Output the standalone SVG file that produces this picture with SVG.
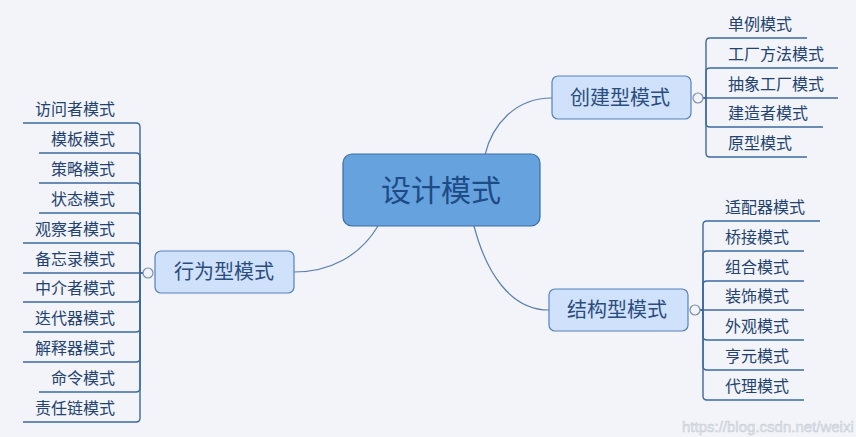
<svg xmlns="http://www.w3.org/2000/svg" width="856" height="437" viewBox="0 0 856 437">
<style>
.bg{fill:#f2f4f9}
.root{fill:#66a2de;stroke:#3c6ca6;stroke-width:1.2}
.sub{fill:#d0e1fc;stroke:#5582ba;stroke-width:1.2}
.rt{font-family:"Liberation Sans","Noto Sans CJK SC",sans-serif;font-size:30px;fill:#1d4b85;text-anchor:middle}
.st{font-family:"Liberation Sans","Noto Sans CJK SC",sans-serif;font-size:20px;fill:#2b4d7d;text-anchor:middle}
.it{font-family:"Liberation Sans","Noto Sans CJK SC",sans-serif;font-size:16px;fill:#23426f}
.itr{font-family:"Liberation Sans","Noto Sans CJK SC",sans-serif;font-size:16px;fill:#23426f;text-anchor:end}
.ln{fill:none;stroke:#3d6aa0;stroke-width:1.4}
.cl{fill:none;stroke:#5a7fae;stroke-width:1.2}
.kn{fill:#f2f4f9;stroke:#7a8fa8;stroke-width:1.2}
.wm{font-family:"Liberation Sans","DejaVu Sans",sans-serif;font-size:15px;fill:#dfe2e8;stroke:#c4c8d0;stroke-width:0.4}
</style>
<rect class="bg" x="0" y="0" width="856" height="437"/>

<g id="connectors">
  <path class="cl" d="M485 155 C492 125 515 98 552 98"/>
  <path class="cl" d="M474 226 C486 272 510 310 549 310"/>
  <path class="cl" d="M378 226 C360 256 330 272 294 272"/>
  <!-- creational branches -->
  <path class="ln" d="M703 98 H706 V42 Q706 38 710 38 H807"/>
  <path class="ln" d="M703 98 H706 V72 Q706 68 710 68 H838"/>
  <path class="ln" d="M703 98 H838"/>
  <path class="ln" d="M703 98 H706 V123 Q706 127 710 127 H823"/>
  <path class="ln" d="M703 98 H706 V153 Q706 157 710 157 H807"/>
  <!-- structural branches -->
  <path class="ln" d="M700 310 H703 V225 Q703 221 707 221 H820"/>
  <path class="ln" d="M700 310 H703 V255 Q703 251 707 251 H804"/>
  <path class="ln" d="M700 310 H703 V285 Q703 281 707 281 H804"/>
  <path class="ln" d="M700 310 H804"/>
  <path class="ln" d="M700 310 H703 V336 Q703 340 707 340 H804"/>
  <path class="ln" d="M700 310 H703 V366 Q703 370 707 370 H804"/>
  <path class="ln" d="M700 310 H703 V396 Q703 400 707 400 H804"/>
  <!-- behavioral branches -->
  <path class="ln" d="M143 273 H140 V127 Q140 123 136 123 H23"/>
  <path class="ln" d="M143 273 H140 V157 Q140 153 136 153 H39"/>
  <path class="ln" d="M143 273 H140 V187 Q140 183 136 183 H39"/>
  <path class="ln" d="M143 273 H140 V217 Q140 213 136 213 H39"/>
  <path class="ln" d="M143 273 H140 V247 Q140 243 136 243 H23"/>
  <path class="ln" d="M143 273 H23"/>
  <path class="ln" d="M143 273 H140 V298 Q140 302 136 302 H23"/>
  <path class="ln" d="M143 273 H140 V328 Q140 332 136 332 H23"/>
  <path class="ln" d="M143 273 H140 V358 Q140 362 136 362 H23"/>
  <path class="ln" d="M143 273 H140 V388 Q140 392 136 392 H39"/>
  <path class="ln" d="M143 273 H140 V418 Q140 422 136 422 H23"/>
</g>

<g id="root">
  <rect class="root" x="343" y="154" width="197" height="72" rx="9"/>
  <text class="rt" x="441" y="201">设计模式</text>
</g>

<g id="creational">
  <rect class="sub" x="552" y="76" width="139" height="43" rx="6"/>
  <text class="st" x="620" y="105">创建型模式</text>
  <circle class="kn" cx="698" cy="98" r="5"/>
</g>
<g id="creational-items">
  <text class="it" x="728" y="30">单例模式</text>
  <text class="it" x="728" y="60">工厂方法模式</text>
  <text class="it" x="728" y="90">抽象工厂模式</text>
  <text class="it" x="728" y="119">建造者模式</text>
  <text class="it" x="728" y="149">原型模式</text>
</g>

<g id="structural">
  <rect class="sub" x="549" y="289" width="139" height="42" rx="6"/>
  <text class="st" x="617" y="317">结构型模式</text>
  <circle class="kn" cx="695" cy="310" r="5"/>
</g>
<g id="structural-items">
  <text class="it" x="725" y="213">适配器模式</text>
  <text class="it" x="725" y="243">桥接模式</text>
  <text class="it" x="725" y="273">组合模式</text>
  <text class="it" x="725" y="302">装饰模式</text>
  <text class="it" x="725" y="332">外观模式</text>
  <text class="it" x="725" y="362">亨元模式</text>
  <text class="it" x="725" y="392">代理模式</text>
</g>

<g id="behavioral">
  <rect class="sub" x="155" y="251" width="139" height="42" rx="6"/>
  <text class="st" x="224" y="279">行为型模式</text>
  <circle class="kn" cx="148" cy="273" r="5"/>
</g>
<g id="behavioral-items">
  <text class="itr" x="115" y="115">访问者模式</text>
  <text class="itr" x="115" y="145">模板模式</text>
  <text class="itr" x="115" y="175">策略模式</text>
  <text class="itr" x="115" y="205">状态模式</text>
  <text class="itr" x="115" y="235">观察者模式</text>
  <text class="itr" x="115" y="265">备忘录模式</text>
  <text class="itr" x="115" y="294">中介者模式</text>
  <text class="itr" x="115" y="324">迭代器模式</text>
  <text class="itr" x="115" y="354">解释器模式</text>
  <text class="itr" x="115" y="384">命令模式</text>
  <text class="itr" x="115" y="414">责任链模式</text>
</g>

<text class="wm" x="682" y="432">https://blog.csdn.net/weixi</text>
</svg>
